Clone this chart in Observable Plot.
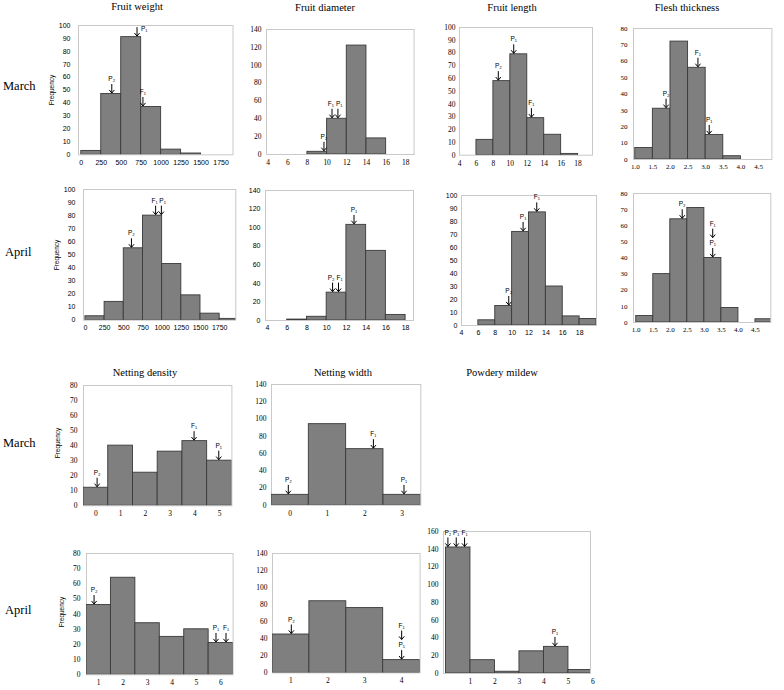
<!DOCTYPE html>
<html><head><meta charset="utf-8">
<script src="https://cdn.jsdelivr.net/npm/d3@7"></script>
<script src="https://cdn.jsdelivr.net/npm/@observablehq/plot@0.6"></script>
<style>
body{margin:0;background:#fff;}
#root{position:relative;width:784px;height:690px;overflow:hidden;background:#fff;}
.lbl{position:absolute;font-family:"Liberation Serif","Times New Roman",serif;white-space:nowrap;color:#000;line-height:1;}
.title{font-size:10.5px;transform:translate(-50%,-50%);}
.row{font-size:12.5px;transform:translate(0,-50%);}
.freq{font-family:"Liberation Sans",Arial,sans-serif;font-size:6.5px;transform:translate(-50%,-50%) rotate(-90deg);}
svg.panel{position:absolute;overflow:visible;}
</style></head><body><div id="root"></div>
<script>
// ---------- data ----------
const weightBins = [0, 250, 500, 750, 1000, 1250, 1500, 1750];
const weightMarch = [3, 47, 91, 37, 4, 1, 0, 0];
const weightApril = [3, 14, 55, 80, 43, 19, 5, 1];
const weightTicks = [0, 250, 500, 750, 1000, 1250, 1500, 1750];

const diameterBins = [6, 8, 10, 12, 14, 16];
const diameterMarch = [0, 3, 40, 122, 18, 0];
const diameterApril = [1, 4, 30, 103, 75, 6];
const diameterTicks = [4, 6, 8, 10, 12, 14, 16, 18];

const lengthBins = [6, 8, 10, 12, 14, 16, 18];
const lengthMarch = [12, 58, 79, 29, 16, 1, 0];
const lengthApril = [4, 15, 72, 87, 30, 7, 5];
const lengthTicks = [4, 6, 8, 10, 12, 14, 16, 18];

const fleshBins = [1.0, 1.5, 2.0, 2.5, 3.0, 3.5, 4.0, 4.5];
const fleshMarch = [7, 31, 72, 56, 15, 2, 0, 0];
const fleshApril = [4, 30, 64, 71, 40, 9, 0, 2];
const fleshTicks = [1.0, 1.5, 2.0, 2.5, 3.0, 3.5, 4.0, 4.5];

const densityMarchCats = [0, 1, 2, 3, 4, 5];
const densityMarch = [12, 40, 22, 36, 43, 30];
const densityAprilCats = [1, 2, 3, 4, 5, 6];
const densityApril = [46, 64, 34, 25, 30, 21];

const widthMarchCats = [0, 1, 2, 3];
const widthMarch = [12, 94, 65, 12];
const widthAprilCats = [1, 2, 3, 4];
const widthApril = [45, 84, 76, 15];

const mildewBins = [0, 1, 2, 3, 4, 5];
const mildewApril = [142, 15, 2, 25, 30, 4];
const mildewTicks = [1, 2, 3, 4, 5, 6];

// parent / F1 markers: label, x position (data units), y (frequency at arrow tip)
const weightMarchNotes = [{label: "P\u2082", x: 382, y: 47}, {label: "P\u2081", x: 698, y: 91, a: "side"}, {label: "F\u2081", x: 772, y: 37}];
const weightAprilNotes = [{label: "P\u2082", x: 600, y: 55}, {label: "F\u2081", x: 915, y: 80, a: "end"}, {label: "P\u2081", x: 990, y: 80, a: "start"}];
const diameterMarchNotes = [{label: "P\u2082", x: 9.68, y: 3}, {label: "F\u2081", x: 10.5, y: 40, a: "end"}, {label: "P\u2081", x: 11.1, y: 40, a: "start"}];
const diameterAprilNotes = [{label: "P\u2082", x: 10.6, y: 30, a: "end"}, {label: "F\u2081", x: 11.2, y: 30, a: "start"}, {label: "P\u2081", x: 12.77, y: 103}];
const lengthMarchNotes = [{label: "P\u2082", x: 8.58, y: 58}, {label: "P\u2081", x: 10.4, y: 79}, {label: "F\u2081", x: 12.49, y: 29}];
const lengthAprilNotes = [{label: "P\u2082", x: 9.6, y: 15}, {label: "P\u2081", x: 11.3, y: 72}, {label: "F\u2081", x: 12.92, y: 87}];
const fleshMarchNotes = [{label: "P\u2082", x: 1.875, y: 31}, {label: "F\u2081", x: 2.78, y: 56}, {label: "P\u2081", x: 3.1, y: 15}];
const fleshAprilNotes = [{label: "P\u2082", x: 2.35, y: 64}, {label: "F\u2081", x: 3.245, y: 52}, {label: "P\u2081", x: 3.245, y: 40}];
const densityMarchNotes = [{label: "P\u2082", x: 0.05, y: 12}, {label: "F\u2081", x: 3.97, y: 43}, {label: "P\u2081", x: 4.97, y: 30}];
const widthMarchNotes = [{label: "P\u2082", x: -0.05, y: 12}, {label: "F\u2081", x: 2.23, y: 65}, {label: "P\u2081", x: 3.05, y: 12}];
const densityAprilNotes = [{label: "P\u2082", x: 0.81, y: 46}, {label: "P\u2081", x: 5.8, y: 21}, {label: "F\u2081", x: 6.21, y: 21}];
const widthAprilNotes = [{label: "P\u2082", x: 1.01, y: 45}, {label: "F\u2081", x: 4.0, y: 38}, {label: "P\u2081", x: 4.0, y: 15}];
const mildewAprilNotes = [{label: "P\u2082", x: 0.08, y: 142}, {label: "P\u2081", x: 0.42, y: 142}, {label: "F\u2081", x: 0.76, y: 142}, {label: "P\u2081", x: 4.45, y: 30}];

// ---------- helpers ----------
const binTable = (starts, counts, w) => starts.map((s, i) => ({x1: s, x2: s + w, n: counts[i]})).filter(d => d.n > 0);
const catTable = (cats, counts) => cats.map((c, i) => ({x1: c - 0.5, x2: c + 0.5, n: counts[i]})).filter(d => d.n > 0);

const arrowSymbol = {
  draw(ctx) {
    ctx.moveTo(0, -4.5); ctx.lineTo(0, 4.5);
    ctx.moveTo(-2.6, 1.4); ctx.lineTo(0, 4.5); ctx.lineTo(2.6, 1.4);
  }
};

const SERIF = "'Liberation Serif','Times New Roman',serif";
const SANS = "'Liberation Sans',Arial,sans-serif";
const root = document.getElementById("root");

function panel(c) {
  const ml = 34, mr = 8, mt = 34, mb = 20;
  const W = (c.R - c.L) + ml + mr, H = (c.B - c.T) + mt + mb;
  const mid = c.notes.filter(d => !d.a), side = c.notes.filter(d => d.a === "side");
  const ends = c.notes.filter(d => d.a === "end"), starts = c.notes.filter(d => d.a === "start");
  const txt = {x: "x", y: "y", text: "label", fontSize: 6.5, fontFamily: SANS, fill: "#000"};
  const svg = Plot.plot({
    width: W, height: H,
    marginLeft: ml, marginRight: mr, marginTop: mt, marginBottom: mb,
    style: {fontFamily: c.font || SERIF, fontSize: (c.fs || 7.5) + "px", background: "none", overflow: "visible", color: "#000"},
    x: {domain: c.xdom, ticks: c.xticks, tickSize: 0, tickPadding: 5, tickFormat: c.xfmt || (d => String(d)), label: null},
    y: {domain: [0, c.ymax], ticks: d3.range(0, c.ymax + 1e-9, c.ystep), tickSize: 0, tickPadding: c.yp || 6, label: null},
    marks: [
      Plot.frame({stroke: "#c9c9c9", strokeWidth: 1}),
      Plot.rectY(c.bars, {x1: "x1", x2: "x2", y: "n", fill: "#7f7f7f", stroke: "#3a3a3a", strokeWidth: 0.9, clip: true}),
      Plot.dot(c.notes, {x: "x", y: "y", symbol: arrowSymbol, r: 5, dy: -5.5, fill: "none", stroke: "#000", strokeWidth: 1}),
      Plot.text(mid, {...txt, dy: -15}),
      Plot.text(ends, {...txt, dy: -15, dx: 2, textAnchor: "end"}),
      Plot.text(starts, {...txt, dy: -15, dx: -2, textAnchor: "start"}),
      Plot.text(side, {...txt, dy: -8, dx: 4, textAnchor: "start"})
    ]
  });
  svg.classList.add("panel");
  svg.style.left = (c.L - ml) + "px";
  svg.style.top = (c.T - mt) + "px";
  root.appendChild(svg);
}

function label(text, cls, x, y) {
  const d = document.createElement("div");
  d.className = "lbl " + cls;
  d.textContent = text;
  d.style.left = x + "px"; d.style.top = y + "px";
  root.appendChild(d);
}

// ---------- row 1: March ----------
panel({L: 77.5, R: 232, T: 25, B: 154.3, xdom: [-35, 1900], xticks: weightTicks, ymax: 100, ystep: 10, font: SANS, fs: 7, yp: 8,
  bars: binTable(weightBins, weightMarch, 250), notes: weightMarchNotes});
panel({L: 265.7, R: 413.3, T: 29.3, B: 154.3, xdom: [3.84, 18.84], xticks: diameterTicks, ymax: 140, ystep: 20, yp: 5,
  bars: binTable(diameterBins, diameterMarch, 2), notes: diameterMarchNotes});
panel({L: 458.7, R: 591.7, T: 27.3, B: 155, xdom: [4.0, 19.7], xticks: lengthTicks, ymax: 100, ystep: 10, yp: 4,
  bars: binTable(lengthBins, lengthMarch, 2), notes: lengthMarchNotes});
panel({L: 633.3, R: 771.7, T: 28.3, B: 159.3, xdom: [0.95, 4.88], xticks: fleshTicks, xfmt: d3.format(".1f"), ymax: 80, ystep: 10, yp: 6, fs: 7,
  bars: binTable(fleshBins, fleshMarch, 0.5), notes: fleshMarchNotes});

// ---------- row 2: April ----------
panel({L: 82.7, R: 235, T: 189.3, B: 320, xdom: [-25, 1960], xticks: weightTicks, ymax: 100, ystep: 10, font: SANS, fs: 7, yp: 8,
  bars: binTable(weightBins, weightApril, 250), notes: weightAprilNotes});
panel({L: 265, R: 413, T: 190, B: 320, xdom: [3.8, 18.8], xticks: diameterTicks, ymax: 140, ystep: 20, yp: 5, font: SANS, fs: 7,
  bars: binTable(diameterBins, diameterApril, 2), notes: diameterAprilNotes});
panel({L: 460.7, R: 595.7, T: 195, B: 325, xdom: [4.0, 20.0], xticks: lengthTicks, ymax: 100, ystep: 10, yp: 4, font: SANS, fs: 7,
  bars: binTable(lengthBins, lengthApril, 2), notes: lengthAprilNotes});
panel({L: 632.7, R: 770, T: 192.7, B: 321.7, xdom: [0.92, 4.95], xticks: fleshTicks, xfmt: d3.format(".1f"), ymax: 80, ystep: 10, yp: 6, fs: 7,
  bars: binTable(fleshBins, fleshApril, 0.5), notes: fleshAprilNotes});

// ---------- row 3: March ----------
panel({L: 83.3, R: 231.7, T: 384.7, B: 505, xdom: [-0.5, 5.5], xticks: densityMarchCats, ymax: 80, ystep: 10, yp: 6,
  bars: catTable(densityMarchCats, densityMarch), notes: densityMarchNotes});
panel({L: 270.7, R: 420, T: 384.3, B: 505, xdom: [-0.5, 3.5], xticks: widthMarchCats, ymax: 140, ystep: 20, yp: 5,
  bars: catTable(widthMarchCats, widthMarch), notes: widthMarchNotes});

// ---------- row 4: April ----------
panel({L: 85.7, R: 232.3, T: 552.7, B: 674, xdom: [0.5, 6.5], xticks: densityAprilCats, ymax: 80, ystep: 10, yp: 6,
  bars: catTable(densityAprilCats, densityApril), notes: densityAprilNotes});
panel({L: 271.7, R: 419.3, T: 553.3, B: 672.7, xdom: [0.5, 4.5], xticks: widthAprilCats, ymax: 140, ystep: 20, yp: 5,
  bars: catTable(widthAprilCats, widthApril), notes: widthAprilNotes});
panel({L: 443, R: 590, T: 531, B: 673, xdom: [-0.1, 5.9], xticks: mildewTicks, ymax: 160, ystep: 20, yp: 5,
  bars: binTable(mildewBins, mildewApril, 1), notes: mildewAprilNotes});

// ---------- titles and row labels ----------
label("Fruit weight", "title", 137, 7);
label("Fruit diameter", "title", 325, 8);
label("Fruit length", "title", 512, 7.5);
label("Flesh thickness", "title", 687, 7.5);
label("Netting density", "title", 145, 373);
label("Netting width", "title", 343, 373);
label("Powdery mildew", "title", 502, 373);

label("March", "row", 3, 86);
label("April", "row", 5, 252);
label("March", "row", 3, 443);
label("April", "row", 5, 610);

label("Frequency", "freq", 52, 90);
label("Frequency", "freq", 57, 255);
label("Frequency", "freq", 58, 443);
label("Frequency", "freq", 61.5, 612);
</script></body></html>
